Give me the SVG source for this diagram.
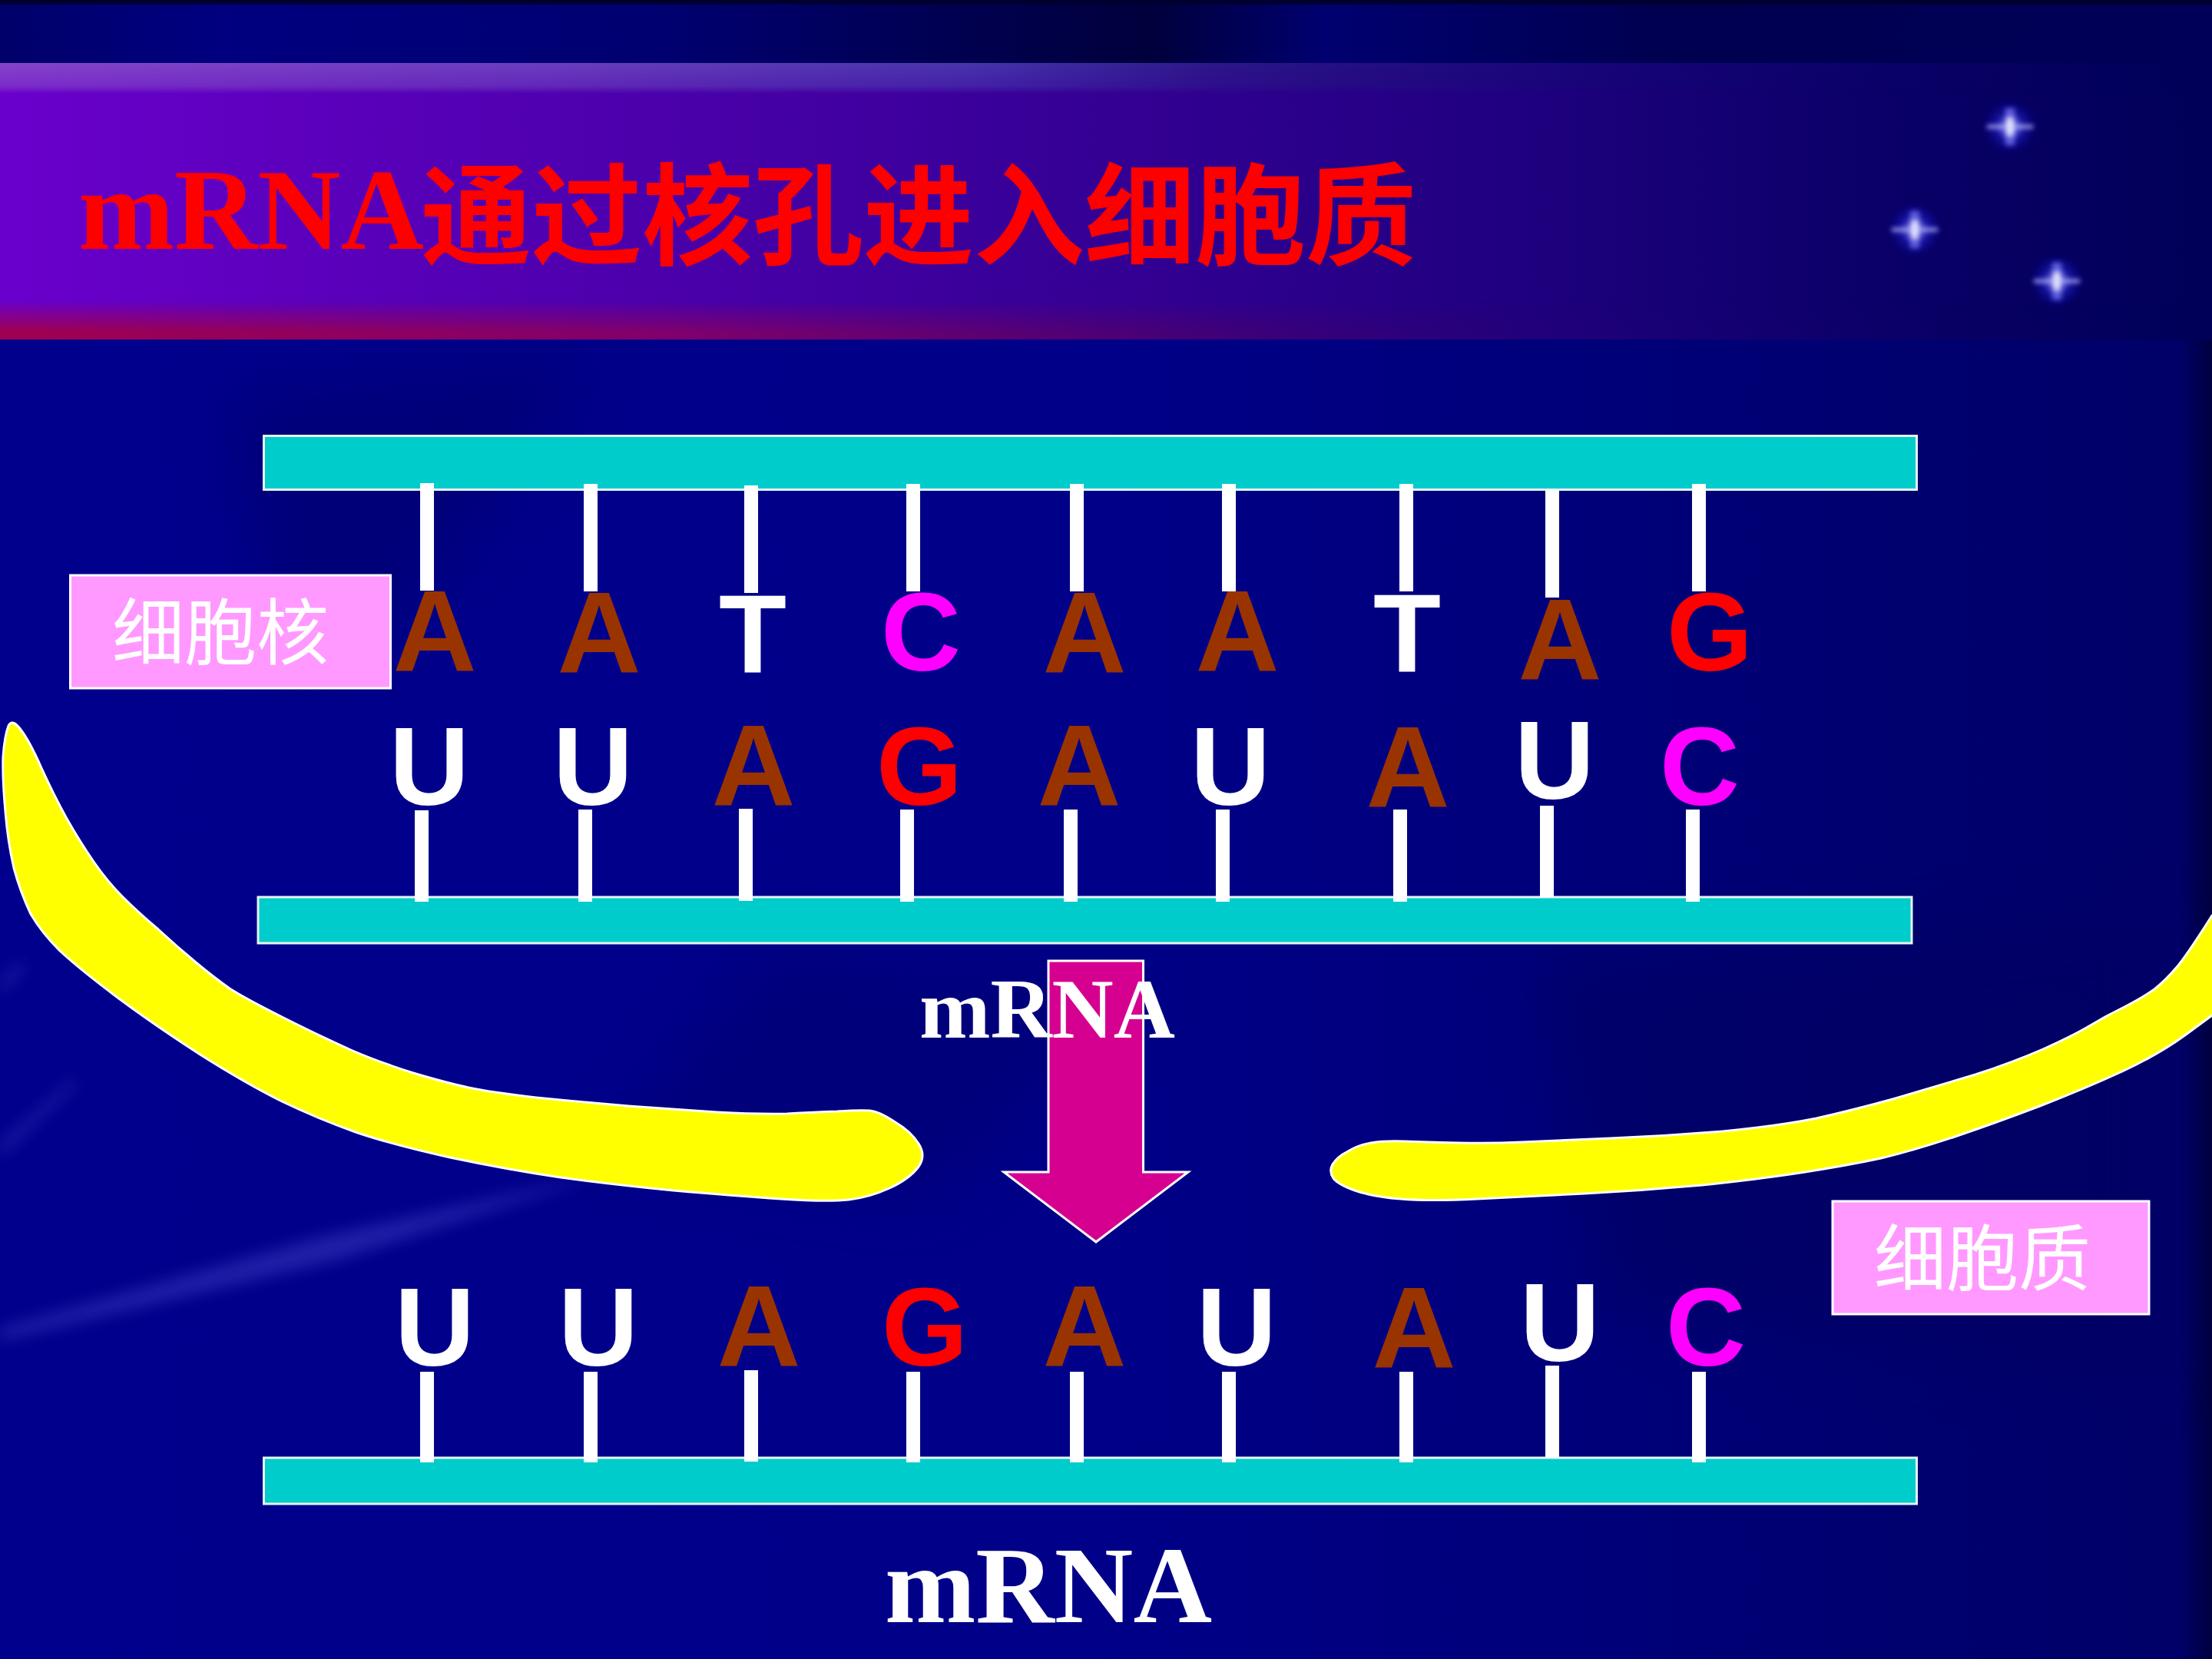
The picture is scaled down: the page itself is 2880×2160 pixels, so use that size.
<svg xmlns="http://www.w3.org/2000/svg" width="2880" height="2160" viewBox="0 0 2880 2160">
  <defs>
    <style>
      .base { font-family: "Liberation Sans", "Noto Sans CJK SC", sans-serif; font-weight: 700; font-size: 144px; text-anchor: middle; }
      .w { fill: #ffffff; }
      .a { fill: #993300; font-size: 151px; }
      .c { fill: #ff00ff; }
      .g { fill: #ff0000; }
      .rail { fill: #00cccc; stroke: #e6f5f5; stroke-width: 3; }
      .tag { fill: #ff99ff; stroke: #ffffff; stroke-width: 3; }
      .tagtext { font-family: "Noto Sans CJK SC", sans-serif; font-size: 94px; fill: #ffffff; }
      .serif { font-family: "Liberation Serif", "Noto Sans CJK SC", serif; font-weight: 700; }
      .wall { fill: #ffff00; stroke: #ffffff; stroke-width: 3; }
      .stick { fill: #ffffff; }
    </style>
    <linearGradient id="sky" x1="0" y1="0" x2="1" y2="0">
      <stop offset="0" stop-color="#00008c"/>
      <stop offset="0.5" stop-color="#000088"/>
      <stop offset="0.85" stop-color="#000070"/>
      <stop offset="0.985" stop-color="#000068"/>
      <stop offset="1" stop-color="#000040"/>
    </linearGradient>
    <linearGradient id="ceiling" x1="0" y1="0" x2="1" y2="0">
      <stop offset="0" stop-color="#00006a"/>
      <stop offset="0.1" stop-color="#000080"/>
      <stop offset="0.3" stop-color="#000070"/>
      <stop offset="0.52" stop-color="#00003c"/>
      <stop offset="0.6" stop-color="#000070"/>
      <stop offset="0.75" stop-color="#000050"/>
      <stop offset="1" stop-color="#000058"/>
    </linearGradient>
    <linearGradient id="band" x1="0" y1="0" x2="1" y2="0">
      <stop offset="0" stop-color="#6a00cc"/>
      <stop offset="0.25" stop-color="#5000b0"/>
      <stop offset="0.48" stop-color="#360096"/>
      <stop offset="0.68" stop-color="#200080"/>
      <stop offset="0.85" stop-color="#0a0068"/>
      <stop offset="1" stop-color="#000058"/>
    </linearGradient>
    <linearGradient id="bandTop" x1="0" y1="0" x2="1" y2="0">
      <stop offset="0" stop-color="#8a50c8"/>
      <stop offset="0.25" stop-color="#7048c0"/>
      <stop offset="0.44" stop-color="#4a3cb0"/>
      <stop offset="0.55" stop-color="#2c1a88"/>
      <stop offset="0.75" stop-color="#0e0a70" stop-opacity="0.4"/>
      <stop offset="1" stop-color="#000058" stop-opacity="0"/>
    </linearGradient>
    <linearGradient id="bandFoot" x1="0" y1="0" x2="1" y2="0">
      <stop offset="0" stop-color="#a00050"/>
      <stop offset="0.3" stop-color="#80006c"/>
      <stop offset="0.55" stop-color="#400078"/>
      <stop offset="0.72" stop-color="#200078" stop-opacity="0.5"/>
      <stop offset="1" stop-color="#000058" stop-opacity="0"/>
    </linearGradient>
    <linearGradient id="footFade" x1="0" y1="0" x2="0" y2="1">
      <stop offset="0" stop-color="#fff" stop-opacity="0"/>
      <stop offset="0.8" stop-color="#fff" stop-opacity="1"/>
      <stop offset="1" stop-color="#fff" stop-opacity="1"/>
    </linearGradient>
    <linearGradient id="topFade" x1="0" y1="0" x2="0" y2="1">
      <stop offset="0" stop-color="#fff" stop-opacity="0.85"/>
      <stop offset="0.75" stop-color="#fff" stop-opacity="0.55"/>
      <stop offset="1" stop-color="#fff" stop-opacity="0"/>
    </linearGradient>
    <mask id="footMask"><rect x="0" y="392" width="2880" height="50" fill="url(#footFade)"/></mask>
    <mask id="topMask"><rect x="0" y="82" width="2880" height="40" fill="url(#topFade)"/></mask>
    <radialGradient id="glow">
      <stop offset="0" stop-color="#d8d8ff"/>
      <stop offset="0.2" stop-color="#7070e8" stop-opacity="0.9"/>
      <stop offset="0.55" stop-color="#2020c0" stop-opacity="0.55"/>
      <stop offset="1" stop-color="#0000a0" stop-opacity="0"/>
    </radialGradient>
    <filter id="soft" x="-20%" y="-50%" width="140%" height="200%"><feGaussianBlur stdDeviation="10"/></filter>
    <filter id="softer" x="-10%" y="-10%" width="120%" height="120%"><feGaussianBlur stdDeviation="40"/></filter>
    <filter id="twinkle" x="-50%" y="-50%" width="200%" height="200%"><feGaussianBlur stdDeviation="3"/></filter>
    <g id="star">
      <circle r="36" fill="url(#glow)"/>
      <g filter="url(#twinkle)">
        <rect x="-30" y="-2" width="60" height="4" fill="#b8b8ff"/>
        <rect x="-6" y="-24" width="12" height="48" fill="#6060e0"/>
        <rect x="-4" y="-11" width="8" height="22" fill="#e8e8ff"/>
      </g>
    </g>
  </defs>

  <g id="background">
    <rect width="2880" height="2160" fill="url(#sky)"/>
    <rect width="2880" height="84" fill="url(#ceiling)"/>
    <rect width="2880" height="6" fill="#000030"/>
    <!-- soft shading in the field behind the strands -->
    <g filter="url(#softer)">
      <path d="M300 520 L760 470 L560 760 L380 900 Z" fill="#000070" opacity="0.7"/>
      <path d="M1000 1240 L1500 1280 L1200 1560 L800 1500 Z" fill="#000070" opacity="0.6"/>
      <path d="M2000 1250 L2800 1200 L2800 1800 L2100 1700 Z" fill="#000060" opacity="0.6"/>
    </g>
    <g filter="url(#soft)" fill="#3a3ac0" opacity="0.55">
      <path d="M0 1730 L420 1610 L780 1530 L440 1640 L0 1745 Z"/>
      <path d="M0 1490 L95 1405 L100 1410 L0 1505 Z"/>
      <path d="M0 1280 L30 1250 L30 1262 L0 1294 Z"/>
    </g>
  </g>

  <g id="title-band">
    <rect y="82" width="2880" height="360" fill="url(#band)"/>
    <rect y="82" width="2880" height="40" fill="url(#bandTop)" mask="url(#topMask)"/>
    <rect y="392" width="2880" height="50" fill="url(#bandFoot)" mask="url(#footMask)"/>
  </g>

  <g id="stars">
    <use href="#star" x="2617" y="165"/>
    <use href="#star" x="2493" y="299"/>
    <use href="#star" x="2678" y="366"/>
  </g>

  <g id="title">
    <text class="serif" x="102" y="324" font-size="150" fill="#ff0000">mRNA</text>
    <text class="serif" x="548" y="334" font-size="144" fill="#ff0000">通过核孔进入细胞质</text>
  </g>

  <g id="nuclear-envelope">
    <path id="envelope-left" class="wall" d="M11 945 Q16 935 27 950 Q38 964 54 1000 Q70 1035 87 1066 Q104 1096 122 1122 Q140 1148 160 1168 Q180 1188 206 1210 Q231 1233 255 1253 Q279 1273 299 1287 Q319 1300 371 1326 Q423 1352 459 1368 Q494 1383 538 1397 Q582 1410 610 1416 Q638 1422 698 1429 Q758 1435 818 1440 Q877 1444 933 1448 Q989 1451 1025 1450 Q1061 1448 1090 1447 Q1120 1445 1132 1446 Q1144 1447 1164 1460 Q1186 1473 1196 1489 Q1206 1505 1196 1519 Q1184 1535 1158 1547 Q1132 1559 1105 1562 Q1077 1565 1017 1561 Q957 1557 877 1550 Q797 1542 730 1533 Q662 1523 586 1507 Q510 1490 463 1474 Q415 1457 367 1434 Q319 1410 259 1372 Q199 1333 152 1298 Q104 1262 78 1238 Q54 1214 40 1190 Q26 1160 18 1130 Q10 1095 7 1057 Q3 1013 4 985 Q6 958 11 945 Z"/>
    <path id="envelope-right" class="wall" d="M2880 1192 Q2851 1238 2836 1257 Q2820 1276 2805 1288 Q2789 1299 2766 1311 Q2743 1322 2720 1336 Q2698 1349 2660 1366 Q2621 1383 2572 1399 Q2522 1414 2468 1430 Q2414 1445 2365 1456 Q2315 1466 2243 1473 Q2170 1479 2097 1482 Q2024 1485 1982 1487 Q1940 1489 1898 1488 Q1856 1487 1829 1486 Q1802 1485 1785 1488 Q1768 1491 1755 1499 Q1741 1506 1735 1516 Q1730 1525 1736 1534 Q1742 1542 1764 1550 Q1787 1558 1824 1561 Q1860 1564 1923 1561 Q1986 1558 2063 1554 Q2139 1550 2216 1543 Q2292 1535 2350 1526 Q2407 1517 2449 1508 Q2491 1498 2545 1480 Q2598 1462 2656 1440 Q2713 1418 2763 1395 Q2812 1372 2846 1347 L2880 1322 L2890 1322 L2890 1192 Z"/>
  </g>

  <g id="dna-strand">
    <rect class="rail" x="343.500" y="567.500" width="2152" height="70"/>
  </g>
  <g id="mrna-strand-nucleus">
    <rect class="rail" x="336" y="1168" width="2153" height="60"/>
  </g>
  <g id="mrna-strand-cytoplasm">
    <rect class="rail" x="343.500" y="1898" width="2152" height="60"/>
  </g>

  <g id="connectors">
    <!-- template strand bonds -->
    <rect class="stick" x="547" y="629" width="18" height="140"/>
    <rect class="stick" x="760" y="630" width="18" height="140"/>
    <rect class="stick" x="969" y="632" width="18" height="140"/>
    <rect class="stick" x="1180" y="630" width="18" height="140"/>
    <rect class="stick" x="1393" y="630" width="18" height="140"/>
    <rect class="stick" x="1591" y="630" width="18" height="140"/>
    <rect class="stick" x="1822" y="630" width="18" height="140"/>
    <rect class="stick" x="2012" y="638" width="18" height="140"/>
    <rect class="stick" x="2203" y="630" width="18" height="140"/>
    <!-- nuclear transcript bonds -->
    <rect class="stick" x="540" y="1055" width="18" height="119"/>
    <rect class="stick" x="753" y="1054" width="18" height="120"/>
    <rect class="stick" x="962" y="1053" width="18" height="120"/>
    <rect class="stick" x="1172" y="1054" width="18" height="120"/>
    <rect class="stick" x="1385" y="1054" width="18" height="120"/>
    <rect class="stick" x="1583" y="1054" width="18" height="120"/>
    <rect class="stick" x="1814" y="1054" width="18" height="120"/>
    <rect class="stick" x="2005" y="1049" width="18" height="119"/>
    <rect class="stick" x="2195" y="1054" width="18" height="120"/>
    <!-- cytoplasmic transcript bonds -->
    <rect class="stick" x="547" y="1786" width="18" height="118"/>
    <rect class="stick" x="760" y="1786" width="18" height="118"/>
    <rect class="stick" x="969" y="1784" width="18" height="119"/>
    <rect class="stick" x="1180" y="1786" width="18" height="118"/>
    <rect class="stick" x="1393" y="1786" width="18" height="118"/>
    <rect class="stick" x="1591" y="1786" width="18" height="118"/>
    <rect class="stick" x="1822" y="1786" width="18" height="118"/>
    <rect class="stick" x="2012" y="1778" width="18" height="120"/>
    <rect class="stick" x="2203" y="1786" width="18" height="118"/>
  </g>

  <g id="bases-template">
    <text class="base a" x="566" y="873">A</text>
    <text class="base a" x="780" y="875">A</text>
    <text class="base w" x="980" y="876">T</text>
    <text class="base c" x="1199" y="873">C</text>
    <text class="base a" x="1412" y="875">A</text>
    <text class="base a" x="1611" y="873">A</text>
    <text class="base w" x="1832" y="875">T</text>
    <text class="base a" x="2031" y="884">A</text>
    <text class="base g" x="2226" y="873">G</text>
  </g>
  <g id="bases-nucleus">
    <text class="base w" x="559" y="1048">U</text>
    <text class="base w" x="772" y="1048">U</text>
    <text class="base a" x="981" y="1048">A</text>
    <text class="base g" x="1197" y="1048">G</text>
    <text class="base a" x="1405" y="1048">A</text>
    <text class="base w" x="1602" y="1048">U</text>
    <text class="base a" x="1833" y="1050">A</text>
    <text class="base w" x="2024" y="1040">U</text>
    <text class="base c" x="2213" y="1048">C</text>
  </g>
  <g id="bases-cytoplasm">
    <text class="base w" x="566" y="1778">U</text>
    <text class="base w" x="779" y="1778">U</text>
    <text class="base a" x="988" y="1778">A</text>
    <text class="base g" x="1204" y="1778">G</text>
    <text class="base a" x="1412" y="1778">A</text>
    <text class="base w" x="1610" y="1778">U</text>
    <text class="base a" x="1841" y="1780">A</text>
    <text class="base w" x="2031" y="1772">U</text>
    <text class="base c" x="2221" y="1778">C</text>
  </g>

  <g id="nucleus-tag">
    <rect class="tag" x="91.500" y="749" width="417" height="147"/>
    <text class="tagtext" x="146" y="858">细胞核</text>
  </g>
  <g id="cytoplasm-tag">
    <rect class="tag" x="2386" y="1564" width="412" height="147"/>
    <text class="tagtext" x="2440" y="1673">细胞质</text>
  </g>

  <g id="export-arrow">
    <path d="M1365 1251 H1488.500 V1526 H1547 L1427 1617 L1307 1526 H1365 Z" fill="#d60090" stroke="#ffffff" stroke-width="3"/>
    <text class="serif" x="1197" y="1351" font-size="111" fill="#ffffff">mRNA</text>
  </g>

  <g id="mrna-caption">
    <text class="serif" x="1152" y="2112" font-size="142" fill="#ffffff">mRNA</text>
  </g>
</svg>
